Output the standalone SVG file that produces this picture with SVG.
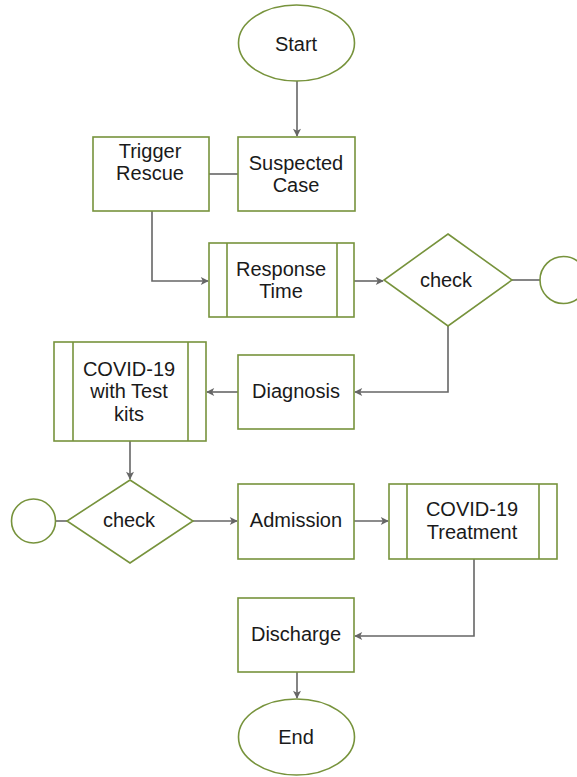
<svg xmlns="http://www.w3.org/2000/svg" width="577" height="777" viewBox="0 0 577 777">
<style>
.s{fill:#fff;stroke:#77933C;stroke-width:1.6}
.c{fill:none;stroke:#666;stroke-width:1.6}
text{font-family:"Liberation Sans",Arial,sans-serif;font-size:20px;fill:#1a1a1a;text-anchor:middle}
</style>
<defs>
<marker id="a" viewBox="0 0 10 10" refX="9" refY="5" markerWidth="8" markerHeight="8" markerUnits="userSpaceOnUse" orient="auto" overflow="visible">
<path d="M0,0 L10,5 L0,10 L2.5,5 Z" fill="#666"/>
</marker>
</defs>
<rect width="577" height="777" fill="#fff"/>
<g id="connectors">
<path class="c" d="M297,81 V136" marker-end="url(#a)"/>
<path class="c" d="M209,174 H238"/>
<path class="c" d="M152,211 V281 H208" marker-end="url(#a)"/>
<path class="c" d="M354,281 H383" marker-end="url(#a)"/>
<path class="c" d="M512,280 H540"/>
<path class="c" d="M448,326 V392 H355" marker-end="url(#a)"/>
<path class="c" d="M238,392 H207" marker-end="url(#a)"/>
<path class="c" d="M130,441 V479" marker-end="url(#a)"/>
<path class="c" d="M55,521 H67"/>
<path class="c" d="M193,521 H237" marker-end="url(#a)"/>
<path class="c" d="M354,521 H388" marker-end="url(#a)"/>
<path class="c" d="M474,559 V636 H355" marker-end="url(#a)"/>
<path class="c" d="M297,672 V698" marker-end="url(#a)"/>
</g>
<g id="start"><ellipse class="s" cx="296.5" cy="43" rx="58" ry="38"/><text x="296" y="51">Start</text></g>
<g id="trigger"><rect class="s" x="93" y="137" width="116" height="74"/><text x="150" y="158">Trigger</text><text x="150" y="180">Rescue</text></g>
<g id="suspected"><rect class="s" x="238" y="137" width="117" height="74"/><text x="296" y="170">Suspected</text><text x="296" y="192">Case</text></g>
<g id="response"><rect class="s" x="209" y="243" width="145" height="74"/><path class="s" d="M227,243 V317 M337,243 V317"/><text x="281" y="276">Response</text><text x="281" y="298">Time</text></g>
<g id="check1"><path class="s" d="M448,234 L512,280 L448,326 L384,280 Z"/><text x="446" y="287">check</text></g>
<g id="conn1"><circle class="s" cx="563.5" cy="280" r="23.5"/></g>
<g id="diagnosis"><rect class="s" x="238" y="355" width="116" height="74"/><text x="296" y="398">Diagnosis</text></g>
<g id="testkits"><rect class="s" x="54" y="342" width="152" height="99"/><path class="s" d="M73,342 V441 M188,342 V441"/><text x="129" y="376">COVID-19</text><text x="129" y="398">with Test</text><text x="129" y="421">kits</text></g>
<g id="check2"><path class="s" d="M130,480 L193,521 L130,563 L67,521 Z"/><text x="129" y="527">check</text></g>
<g id="conn2"><circle class="s" cx="33.5" cy="521" r="22"/></g>
<g id="admission"><rect class="s" x="238" y="484" width="116" height="75"/><text x="296" y="527">Admission</text></g>
<g id="treatment"><rect class="s" x="389" y="484" width="168" height="75"/><path class="s" d="M407,484 V559 M539,484 V559"/><text x="472" y="516">COVID-19</text><text x="472" y="539">Treatment</text></g>
<g id="discharge"><rect class="s" x="238" y="598" width="116" height="74"/><text x="296" y="641">Discharge</text></g>
<g id="end"><ellipse class="s" cx="296.5" cy="737" rx="58" ry="38"/><text x="296" y="744">End</text></g>
</svg>
